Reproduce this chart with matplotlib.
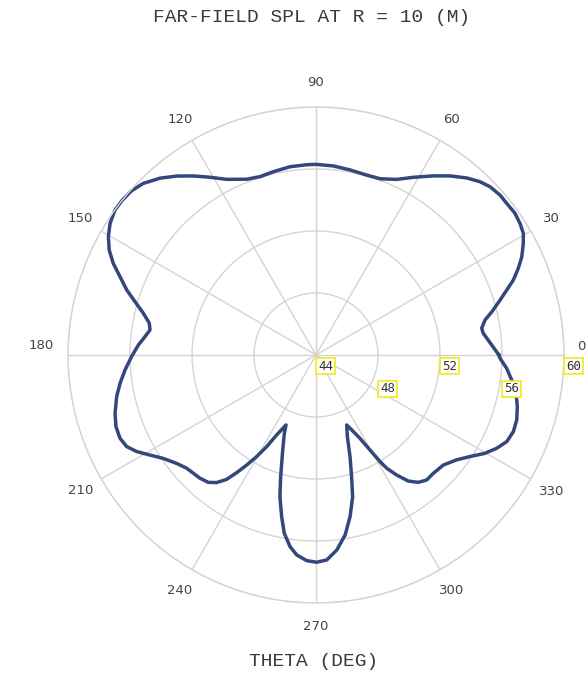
import numpy as np
import matplotlib
matplotlib.use("Agg")
import matplotlib.pyplot as plt
from matplotlib.transforms import offset_copy

# Far-field sound pressure level (dB) versus polar angle (deg)
theta_deg = [0, 3.3, 7.4, 9.2, 11.7, 13.8, 16.6, 18.8, 20.8, 23.2, 25.5, 28.3,
             30.4, 32.8, 35.5, 38.5, 41.0, 44.0, 46.6, 49.6, 53.2, 56.8, 61.3,
             65.3, 70.0, 74.3, 79.6, 84.8, 90.0, 92.8, 97.9, 103.1, 107.4, 111.5,
             117.0, 120.8, 124.4, 127.9, 131.4, 135.2, 138.3, 141.4, 144.2, 147.4,
             150.3, 153.1, 155.7, 158.2, 161.0, 163.6, 166.4, 169.2, 171.4, 173.9,
             176.8, 180.5, 184.5, 188.2, 191.8, 196.2, 199.7, 203.0, 205.8, 208.3,
             211.1, 214.1, 217.9, 221.2, 224.0, 226.7, 229.8, 232.1, 234.3, 236.0,
             237.8, 239.7, 241.7, 243.8, 246.8, 248.0, 250.7, 253.8, 255.7, 258.0,
             259.9, 262.3, 264.5, 267.4, 270.2, 273.0, 276.1, 279.2, 281.9, 284.5,
             286.3, 288.5, 291.0, 293.7, 295.5, 297.8, 299.6, 301.0, 302.0, 303.9,
             306.2, 308.8, 311.5, 314.8, 319.2, 323.3, 326.6, 329.8, 332.7, 335.6,
             338.8, 342.1, 345.6, 349.2, 352.7, 356.0, 359.0, 360.0]
spl_db = [55.8, 55.35, 54.88, 54.83, 55.14, 55.68, 56.39, 57.0, 57.62, 58.2, 58.71, 59.19,
          59.51, 59.66, 59.76, 59.72, 59.73, 59.62, 59.39, 59.0, 58.43, 57.81, 57.07,
          56.47, 56.1, 56.06, 56.14, 56.25, 56.3, 56.29, 56.26, 56.14, 56.06, 56.19,
          56.72, 57.35, 58.0, 58.63, 59.21, 59.71, 59.93, 60.0, 59.99, 59.77,
          59.42, 58.96, 58.35, 57.62, 56.92, 56.17, 55.46, 54.95, 54.83, 55.1,
          55.48, 55.9, 56.36, 56.77, 57.14, 57.5, 57.71, 57.74, 57.57, 57.14,
          56.5, 55.9, 55.39, 55.09, 54.99, 54.92, 54.76, 54.43, 53.88, 53.16,
          52.39, 51.59, 50.72, 49.75, 48.91, 49.45, 50.5, 52.17, 53.43, 54.66,
          55.68, 56.48, 56.96, 57.28, 57.37, 57.24, 56.65, 55.76, 54.66, 53.44,
          52.18, 50.92, 49.65, 48.93, 49.36, 50.08, 51.05, 52.03, 52.62, 53.33,
          54.08, 54.54, 54.77, 54.75, 54.86, 55.32, 55.9, 56.61, 57.12, 57.52,
          57.66, 57.61, 57.41, 57.14, 56.73, 56.33, 55.87, 55.8]

r_ticks = [44, 48, 52, 56, 60]
angle_ticks = [0, 30, 60, 90, 120, 150, 180, 210, 240, 270, 300, 330]

title_text = "FAR-FIELD SPL AT R = 10 (M)"
xlabel_text = "THETA (DEG)"

W, H = 587, 673
fig = plt.figure(figsize=(W / 100, H / 100), dpi=100)
cx, cy, R = 316, 355, 248
ax = fig.add_axes([(cx - R) / W, (H - cy - R) / H, 2 * R / W, 2 * R / H],
                  projection="polar")

grid_col = "#d4d4d4"
ax.set_ylim(r_ticks[0], r_ticks[-1])
ax.set_yticks(r_ticks)
ax.set_yticklabels([])
ax.set_xticks(np.deg2rad(angle_ticks))
ax.set_xticklabels([])
ax.grid(True, color=grid_col, linewidth=1.0)
ax.spines["polar"].set_color(grid_col)
ax.spines["polar"].set_linewidth(1.0)
ax.tick_params(length=0)

ax.plot(np.deg2rad(theta_deg), spl_db, color="#33477c", linewidth=2.5,
        solid_joinstyle="round", clip_on=False)

# angular labels just outside the outer ring
for a in angle_ticks:
    dist = 272
    dy = 0
    if a == 0:
        dist, dy = 265, 9
    elif a == 180:
        dist, dy = 275, 9
    k = dist / R
    x = 0.5 + 0.5 * k * np.cos(np.deg2rad(a))
    y = 0.5 + 0.5 * k * np.sin(np.deg2rad(a)) + 0.5 * dy / R
    ax.text(x, y, str(a), transform=ax.transAxes, ha="center", va="center",
            fontsize=9.5, color="#444444", family="DejaVu Sans", clip_on=False)

# radial level labels in yellow boxes, staggered below the 0-degree spoke
for i, rv in enumerate(r_ticks):
    off = -11 if i % 2 == 0 else -34
    tr = offset_copy(ax.transData, fig=fig, x=2, y=off, units="dots")
    ax.text(0, rv, str(rv), transform=tr, ha="left", va="center",
            fontsize=9, color="#333333", family="DejaVu Sans Mono",
            bbox=dict(boxstyle="square,pad=0.15", fc="white", ec="#f2ea1a", lw=1.2),
            clip_on=False, zorder=5)

fig.text(312 / W, 1 - 17 / H, title_text, ha="center", va="center",
         fontsize=14, family="Liberation Mono", color="#3a3a3a")
fig.text(314 / W, 1 - 662 / H, xlabel_text, ha="center", va="center",
         fontsize=14, family="Liberation Mono", color="#3a3a3a")

fig.savefig("out.png", dpi=100, facecolor="white")
